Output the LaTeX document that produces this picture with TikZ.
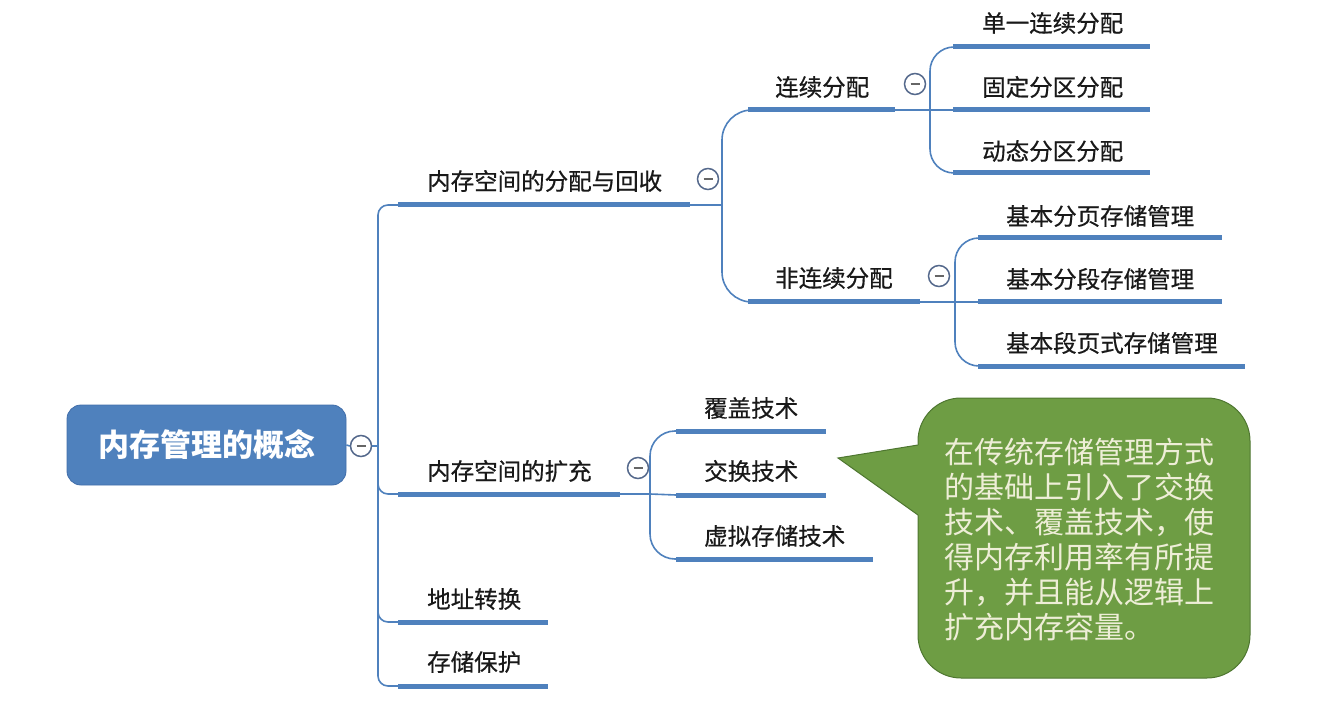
\documentclass[tikz,border=0pt]{standalone}
\usepackage{fontspec}
\newfontfamily\cjk{Noto Sans CJK SC}
\newfontfamily\cjkm{Noto Sans CJK SC}[FakeBold=0.6]
\definecolor{mmblue}{RGB}{79,129,189}
\definecolor{rootedge}{RGB}{65,110,170}
\definecolor{togglec}{RGB}{85,105,140}
\definecolor{calloutfill}{RGB}{110,157,68}
\definecolor{calloutedge}{RGB}{78,118,48}
\definecolor{callouttext}{RGB}{238,238,215}
\begin{document}
\begin{tikzpicture}[x=1pt,y=-1pt,
  conn/.style={draw=mmblue, line width=1.6pt},
  bar/.style={draw=mmblue, line width=5pt},
  lbl/.style={font=\cjkm\fontsize{23.5}{27}\selectfont, anchor=west, inner sep=0pt, text=black!90},
  toggle/.style={circle, draw=togglec, fill=white, line width=1.5pt, minimum size=21pt, inner sep=0pt,
    path picture={\draw[gray!80!black, line width=2pt] ([xshift=-4.5pt]path picture bounding box.center) -- ([xshift=4.5pt]path picture bounding box.center);}},
  rootbox/.style={rectangle, rounded corners=14pt, fill=mmblue, draw=rootedge, line width=0.8pt,
    minimum width=279pt, minimum height=80pt, text=white, font=\cjk\bfseries\fontsize{31}{34}\selectfont}
]
\useasboundingbox (0,0) rectangle (1317,711);

% ---------- root ----------
\node[rootbox] (root) at (206.5,445) {内存管理的概念};
\coordinate (rootJ) at (378,446);

% ---------- level 1 coordinates ----------
\coordinate (a1s) at (398,205); \coordinate (a1e) at (690,205);
\coordinate (a2s) at (398,494); \coordinate (a2e) at (620,494);
\coordinate (a3s) at (398,622); \coordinate (a3e) at (548,622);
\coordinate (a4s) at (398,686); \coordinate (a4e) at (548,686);

% ---------- level 2 coordinates ----------
\coordinate (a1j) at (722,205);
\coordinate (b1s) at (748,110); \coordinate (b1e) at (895,110);
\coordinate (b2s) at (748,302); \coordinate (b2e) at (920,302);
\coordinate (a2j) at (650,494);
\coordinate (c1s) at (676,431); \coordinate (c1e) at (826,431);
\coordinate (c2s) at (676,495); \coordinate (c2e) at (826,495);
\coordinate (c3s) at (676,559); \coordinate (c3e) at (873,559);

% ---------- level 3 coordinates ----------
\coordinate (b1j) at (930,110);
\coordinate (d1s) at (953,47);  \coordinate (d1e) at (1150,47);
\coordinate (d2s) at (953,110); \coordinate (d2e) at (1150,110);
\coordinate (d3s) at (953,173); \coordinate (d3e) at (1150,173);
\coordinate (b2j) at (955,302);
\coordinate (e1s) at (978,238); \coordinate (e1e) at (1222,238);
\coordinate (e2s) at (978,302); \coordinate (e2e) at (1222,302);
\coordinate (e3s) at (978,366); \coordinate (e3e) at (1245,366);

% ---------- connectors ----------
\draw[conn, rounded corners=10pt] (rootJ) |- (a1s);
\draw[conn, rounded corners=10pt] (rootJ) |- (a2s);
\draw[conn, rounded corners=10pt] (rootJ) |- (a3s);
\draw[conn, rounded corners=10pt] (rootJ) |- (a4s);

\draw[conn] (a1e) -- (a1j);
\draw[conn, rounded corners=30pt] (a1j) |- (b1s);
\draw[conn, rounded corners=30pt] (a1j) |- (b2s);

\draw[conn] (a2e) -- (a2j);
\draw[conn, rounded corners=25pt] (a2j) |- (c1s);
\draw[conn] (a2j) -- (c2s);
\draw[conn, rounded corners=25pt] (a2j) |- (c3s);

\draw[conn] (b1e) -- (b1j);
\draw[conn, rounded corners=24pt] (b1j) |- (d1s);
\draw[conn] (b1j) -- (d2s);
\draw[conn, rounded corners=24pt] (b1j) |- (d3s);

\draw[conn] (b2e) -- (b2j);
\draw[conn, rounded corners=24pt] (b2j) |- (e1s);
\draw[conn] (b2j) -- (e2s);
\draw[conn, rounded corners=24pt] (b2j) |- (e3s);

% ---------- bars ----------
\foreach \p in {a1,a2,a3,a4,b1,b2,c1,c2,c3,d1,d2,d3,e1,e2,e3}
  \draw[bar] (\p s) -- (\p e);

% ---------- toggles ----------
\node[toggle] (t0) at (361,446) {};
\draw[conn] (root.east) -- (t0.west);
\draw[conn] (t0.east) -- (rootJ);
\node[toggle] (t1) at (708,179) {};
\node[toggle] (t2) at (638,468) {};
\node[toggle] (t3) at (915,84) {};
\node[toggle] (t4) at (939,276) {};

% ---------- labels ----------
\node[lbl] (a1) at (427,181) {内存空间的分配与回收};
\node[lbl] (a2) at (427,471) {内存空间的扩充};
\node[lbl] (a3) at (427,599) {地址转换};
\node[lbl] (a4) at (427,662) {存储保护};
\node[lbl] (b1) at (775,87) {连续分配};
\node[lbl] (b2) at (775,278) {非连续分配};
\node[lbl] (c1) at (704,408) {覆盖技术};
\node[lbl] (c2) at (704,471) {交换技术};
\node[lbl] (c3) at (704,536) {虚拟存储技术};
\node[lbl] (d1) at (982,23) {单一连续分配};
\node[lbl] (d2) at (982,87) {固定分区分配};
\node[lbl] (d3) at (982,151) {动态分区分配};
\node[lbl] (e1) at (1006,216) {基本分页存储管理};
\node[lbl] (e2) at (1006,279) {基本分段存储管理};
\node[lbl] (e3) at (1006,343) {基本段页式存储管理};

% ---------- callout ----------
\draw[fill=calloutfill, draw=calloutedge, line width=1pt, rounded corners=43pt]
  (918,398) rectangle (1250,678);
\fill[calloutfill] (838,458) -- (918,445) -- (921,445) -- (921,515) -- (918,515) -- cycle;
\draw[calloutedge, line width=1pt] (918,445) -- (838,458) -- (918,515);
\node[anchor=west, align=left, inner sep=0pt, text=callouttext,
      font=\cjk\fontsize{30}{35}\selectfont] (note) at (944,540)
  {在传统存储管理方式\\的基础上引入了交换\\技术、覆盖技术，使\\得内存利用率有所提\\升，并且能从逻辑上\\扩充内存容量。};
\end{tikzpicture}
\end{document}
